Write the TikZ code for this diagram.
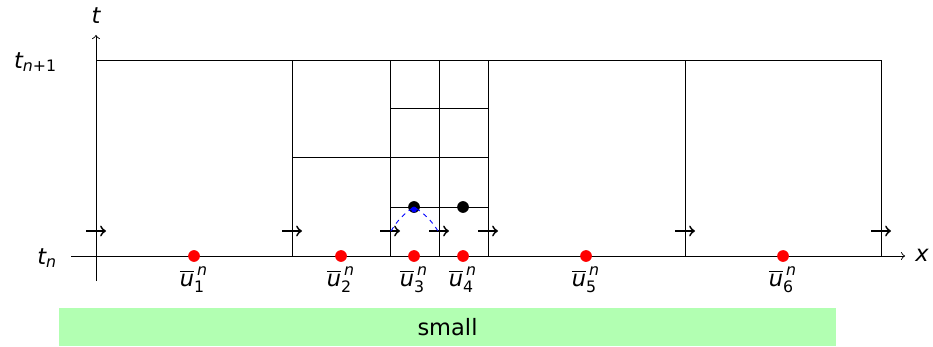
\documentclass[tikz,border=0pt]{standalone}
\usepackage{amsmath}
\usepackage{fontspec}
\setmainfont{DejaVu Sans}
\newcommand{\ubar}[1]{$\overline{\text{\itshape u}}^{\,\text{\itshape n}}_{\text{#1}}$}
\begin{document}
\begin{tikzpicture}[x=0.444pt,y=-0.444pt,
  grid/.style={line width=0.4pt},
  axis/.style={line width=0.4pt,->},
  flux/.style={line width=0.8pt,->},
  cell/.style={circle,fill=red,inner sep=0pt,minimum size=5.2pt},
  bdot/.style={circle,fill=black,inner sep=0pt,minimum size=5.2pt},
  lab/.style={inner sep=1pt}]
\useasboundingbox (0,0) rectangle (933,347);
% axes
\coordinate (ya) at (96,281); \coordinate (yb) at (96,35);
\coordinate (xa) at (71,256); \coordinate (xb) at (905,256);
\draw[axis] (ya) -- (yb);
\draw[axis] (xa) -- (xb);
\node[lab] (tlab) at (96,16) {\itshape t};
\node[lab] (xlab) at (922,255) {\itshape x};
\node[lab,anchor=east] (tn) at (60,258) {\itshape t\textsubscript{\itshape n}};
\node[lab,anchor=east] (tn1) at (60,62) {\itshape t\textsubscript{\itshape n\upshape +1}};
% grid
\coordinate (top0) at (96,60); \coordinate (top6) at (881,60);
\draw[grid] (top0) -- (top6);
\foreach \xx in {292,390,439,488,685,881}{
  \coordinate (vb) at (\xx,256); \coordinate (vt) at (\xx,60);
  \draw[grid] (vb) -- (vt);
}
\coordinate (h1a) at (292,157); \coordinate (h1b) at (488,157);
\coordinate (h2a) at (390,108); \coordinate (h2b) at (488,108);
\coordinate (h3a) at (390,207); \coordinate (h3b) at (488,207);
\draw[grid] (h1a) -- (h1b);
\draw[grid] (h2a) -- (h2b);
\draw[grid] (h3a) -- (h3b);
% flux arrows
\foreach \xx in {96,292,390,439,488,685,881}{
  \coordinate (fa) at (\xx-10,231); \coordinate (fb) at (\xx+10,231);
  \draw[flux] (fa) -- (fb);
}
% blue dashed
\coordinate (bl) at (391,231); \coordinate (br) at (438,231);
\node[bdot] (b1) at (414,207) {};
\node[bdot] (b2) at (463,207) {};
\draw[blue,line width=0.4pt,dash pattern=on 2pt off 2pt] (bl) to[bend left=12] (b1.center) to[bend left=12] (br);
\node[circle,fill=blue,inner sep=0pt,minimum size=2.6pt] (b1b) at (414,209.5) {};
% cell averages
\foreach \i/\xx in {1/194,2/341,3/414,4/463,5/586,6/783}{
  \node[cell] (c\i) at (\xx,256) {};
  \node[lab,anchor=north] (u\i) at (\xx,264) {\ubar{\i}};
}
% green box
\node[fill=green!30,minimum width=345pt,minimum height=16.9pt,inner sep=0pt] (small) at (447.5,327) {small};
\end{tikzpicture}
\end{document}
